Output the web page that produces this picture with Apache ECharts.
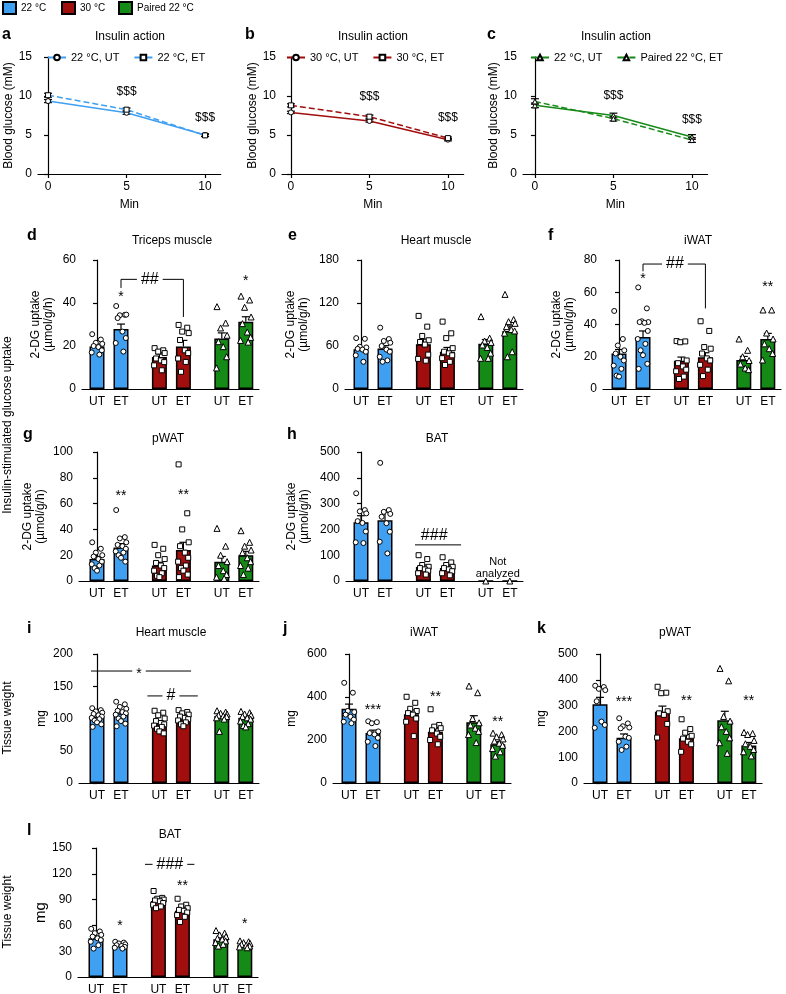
<!DOCTYPE html>
<html>
<head>
<meta charset="utf-8">
<script src="https://cdn.jsdelivr.net/npm/echarts@6/dist/echarts.min.js"></script>
<style>
html, body { margin: 0; padding: 0; background: #fff; }
#main { width: 786px; height: 994px; }
</style>
</head>
<body>
<div id="main"></div>
<script>
var FONT = "'Liberation Sans', Arial, sans-serif";
var BLUE = '#3f9ff0', RED = '#a10e0e', GREEN = '#168a16';

var groupNames = ['22 °C', '30 °C', 'Paired 22 °C'];
var groupColors = [BLUE, RED, GREEN];
var groupSymbols = ['circle', 'rect', 'triangle'];
var barLabels = ['UT', 'ET', 'UT', 'ET', 'UT', 'ET'];
var xPos = [0, 1, 2.6, 3.6, 5.2, 6.2];
var jitter = [-0.2, 0.16, -0.05, 0.22, -0.14, 0.06, 0.2, -0.22, 0.1, -0.1, 0, 0.18, -0.18];

// a-c: insulin action, blood glucose (mM)
var minutes = [0, 5, 10];
var a_ut = [9.35, 7.85, 5.0], a_ut_sem = [0.2, 0.2, 0.15];
var a_et = [10.1, 8.25, 4.95], a_et_sem = [0.25, 0.2, 0.15];
var b_ut = [7.9, 6.8, 4.4], b_ut_sem = [0.15, 0.15, 0.15];
var b_et = [8.8, 7.35, 4.6], b_et_sem = [0.2, 0.2, 0.15];
var c_ut = [8.8, 7.5, 4.75], c_ut_sem = [0.3, 0.3, 0.3];
var c_et = [9.3, 7.1, 4.35], c_et_sem = [0.35, 0.3, 0.3];
var a_marks = [[5, 10.6, '$$$', 'dollar'], [10, 7.2, '$$$', 'dollar']];
var b_marks = [[5, 9.9, '$$$', 'dollar'], [10, 7.2, '$$$', 'dollar']];
var c_marks = [[5, 10.1, '$$$', 'dollar'], [10, 7.0, '$$$', 'dollar']];

// d: triceps muscle 2-DG uptake
var d_mean = [19.8, 27.9, 14.9, 19.8, 23.5, 31.3];
var d_sem = [1.1, 2.3, 1.4, 2.8, 2.6, 2.3];
var d_pts = [
  [25.5, 23, 21.5, 21, 20, 19.5, 18, 17, 16],
  [38.6, 34.5, 34.3, 34.6, 33, 26.7, 23.7, 21.4, 17.4],
  [19, 18, 17.4, 16.7, 14.2, 13.3, 12.5, 11, 8.7],
  [29.8, 28.5, 26.7, 26, 22.8, 18, 16.7, 14.2, 12.6, 8],
  [38.3, 30.7, 28.4, 25, 22, 19.7, 15, 9.8],
  [43.2, 41.4, 38, 33.5, 30.4, 26.5, 24, 22.6, 21.8]
];
var d_lines = [[[1, 47], [1, 51], [3.6, 51], [3.6, 33.5]]];
var d_marks = [[1, 44.6, '*', 'star'], [6.2, 52, '*', 'star'], [2.2, 51, '##', 'hash']];

// e: heart muscle 2-DG uptake
var e_mean = [55.4, 56.5, 62.5, 52, 63, 81];
var e_sem = [2.5, 4, 7, 6, 6, 7];
var e_pts = [
  [71, 70, 59, 58, 56, 55, 52, 47, 38],
  [85.6, 69.7, 67, 64.6, 60, 55, 52, 45, 40, 38],
  [102, 87, 74, 68, 65.6, 62, 48, 42, 39.5],
  [94, 77.7, 71, 57, 52, 49.8, 47, 43, 38, 33.5],
  [101, 71, 67, 65, 61.4, 58, 50, 42.8, 42.8],
  [132, 97, 94, 91.6, 87, 83, 81, 78, 52, 45]
];

// f: iWAT 2-DG uptake
var f_mean = [22, 32.2, 17.5, 19.7, 18, 31];
var f_sem = [2.5, 3.8, 2.3, 2.8, 2.2, 3.5];
var f_pts = [
  [48.4, 31, 27, 24, 22, 20, 17.7, 14.5, 12.5, 8.3, 7.7],
  [63, 50, 42, 41.5, 41.5, 41, 36, 31, 28, 24, 21, 15.6, 12.5],
  [29.7, 29.5, 29, 17.7, 16, 14, 12, 11, 7.7, 6.2],
  [42, 36, 26, 25, 22, 19, 17.7, 15, 12, 8],
  [31, 24, 20, 17.7, 15.5, 13, 12],
  [49, 49, 34.7, 31, 28, 25, 22, 18]
];
var f_lines = [[[1, 73], [1, 77.5], [3.6, 77.5], [3.6, 50]]];
var f_marks = [[1, 70.5, '*', 'star'], [6.2, 65.5, '**', 'star'], [2.33, 77.5, '##', 'hash']];

// g: pWAT 2-DG uptake
var g_mean = [17, 26, 12, 24, 15, 20];
var g_sem = [2, 3, 2.5, 6, 4, 3];
var g_pts = [
  [30, 25, 22, 20, 19, 17, 15, 13, 12, 10, 8],
  [55, 34, 33, 30, 28, 27, 25, 23, 22, 20, 18, 15],
  [28, 25, 20, 17, 14, 12, 10, 8, 6, 4, 3],
  [90.4, 52.5, 40, 30, 27, 22, 18, 15, 12, 10, 8, 5, 3],
  [40.8, 27, 20, 15, 12, 8, 5, 3, 2],
  [39, 30, 27, 24, 22, 18, 15, 12, 10, 5]
];
var g_marks = [[1, 69, '**', 'star'], [3.6, 70, '**', 'star']];

// h: BAT 2-DG uptake (paired group not analyzed)
var h_mean = [228, 235, 54, 50, 0, 0];
var h_sem = [25, 32, 8, 8, 0, 0];
var h_pts = [
  [340, 275, 270, 262, 232, 225, 192, 150, 147],
  [458, 275, 268, 260, 249, 224, 191, 152, 107],
  [100, 85, 62, 55, 50, 45, 40, 30, 25],
  [92, 72, 62, 55, 50, 45, 38, 30, 22],
  [0],
  [0]
];
var h_lines = [[[2.25, 140], [4.17, 140]]];
var h_marks = [[3.05, 142, '###', 'hashAbove'], [5.7, 50, 'Not\nanalyzed', 'note']];

// i: heart muscle weight (mg)
var i_mean = [103, 108, 92.5, 99, 104, 101];
var i_sem = [2, 2.8, 3, 2.5, 2.8, 2];
var i_pts = [
  [116, 113, 111, 109, 107, 105, 103, 101, 99, 97, 94, 91, 87],
  [126, 122, 118, 115, 112, 110, 108, 106, 103, 100, 96, 92, 88],
  [112, 109, 105, 100, 96, 93, 91, 89, 87, 84, 80, 77],
  [113, 110, 108, 106, 103, 101, 99, 97, 94, 91, 88],
  [112, 110, 108, 107, 105, 104, 103, 101, 99, 80],
  [111, 109, 107, 105, 103, 101, 99, 96, 92, 89, 87]
];
var i_lines = [[[-0.25, 173.6], [3.92, 173.6]], [[2.1, 135], [4.2, 135]]];
var i_marks = [[1.75, 173.6, '*', 'hashStar'], [3.08, 135, '#', 'hash']];

// j: iWAT weight (mg)
var j_mean = [345, 232, 320, 238, 283, 180];
var j_sem = [22, 14, 20, 17, 30, 12];
var j_pts = [
  [466, 420, 335, 330, 318, 308, 295, 285, 278],
  [287, 283, 278, 240, 232, 226, 210, 192, 172],
  [401, 373, 345, 335, 325, 318, 300, 285, 218],
  [343, 270, 262, 255, 245, 230, 215, 200, 180],
  [451, 420, 300, 280, 270, 255, 240, 225, 188],
  [232, 225, 215, 205, 195, 185, 175, 160, 145, 125]
];
var j_marks = [[1, 358, '***', 'star'], [3.6, 419, '**', 'star'], [6.2, 302, '**', 'star']];

// k: pWAT weight (mg)
var k_mean = [305, 175, 276, 173, 243, 145];
var k_sem = [27, 15, 22, 15, 35, 12];
var k_pts = [
  [377, 372, 365, 360, 317, 238, 225, 214],
  [251, 231, 220, 215, 212, 180, 175, 160, 141, 128],
  [373, 350, 348, 278, 270, 264, 229, 176],
  [247, 209, 195, 183, 172, 160, 150, 121],
  [444, 396, 258, 240, 218, 200, 175, 156, 115],
  [196, 192, 188, 165, 152, 142, 130, 121, 105]
];
var k_marks = [[1, 329, '***', 'star'], [3.6, 333, '**', 'star'], [6.2, 333, '**', 'star']];

// l: BAT weight (mg)
var l_mean = [45, 36.5, 88.4, 77, 44, 37];
var l_sem = [2.5, 1, 1.7, 2.3, 1.6, 0.8];
var l_pts = [
  [56, 53, 51, 49, 47, 45, 43, 41, 37, 33],
  [41, 40, 39, 38, 37, 36, 35, 34, 33],
  [100, 92, 91, 90, 89, 88, 86, 84, 82, 80],
  [91, 84, 82, 80, 78, 77, 75, 72, 70, 64],
  [54, 51, 49, 47, 45, 44, 42, 40, 38, 36],
  [42, 41, 40, 39, 38, 37, 36, 35, 34]
];
var l_lines = [[[2.04, 131], [4.1, 131]]];
var l_marks = [[1, 64, '*', 'star'], [3.6, 110, '**', 'star'], [6.2, 66, '*', 'star'], [3.08, 131, '###', 'hash']];

var legendText = {
  a_ut: '22 °C, UT', a_et: '22 °C, ET',
  b_ut: '30 °C, UT', b_et: '30 °C, ET',
  c_ut: '22 °C, UT', c_et: 'Paired 22 °C, ET'
};

// layout
var UNIT = 24, XMAX = 6.75, PANEL_H = 129, MIN_PX = 15.7;
var UPTAKE = '2-DG uptake\n(µmol/g/h)';

var chart = echarts.init(document.getElementById('main'));
var option = {
  animation: false,
  backgroundColor: '#fff',
  textStyle: { fontFamily: FONT, color: '#000' },
  legend: [], grid: [], xAxis: [], yAxis: [], series: [], graphic: []
};

var markStyle = {
  star: { size: 14, dy: 4 },
  hashStar: { size: 14, dy: 3, bg: '#fff' },
  hash: { size: 16, dy: 0, bg: '#fff' },
  hashAbove: { size: 16, dy: 0, va: 'bottom' },
  note: { size: 11, dy: 0 },
  dollar: { size: 12, dy: 0 }
};

function markSeries(gi, marks) {
  return {
    type: 'custom', xAxisIndex: gi, yAxisIndex: gi, z: 6, silent: true, clip: false,
    data: marks.map(function (m) { return [m[0], m[1]]; }),
    renderItem: function (params, api) {
      var m = marks[params.dataIndex], s = markStyle[m[3]];
      var pt = api.coord([m[0], m[1]]);
      return {
        type: 'text', x: pt[0], y: pt[1] + s.dy,
        style: {
          text: m[2], fill: '#000', font: s.size + 'px ' + FONT,
          align: 'center', verticalAlign: s.va || 'middle',
          backgroundColor: s.bg, padding: s.bg ? [0, 4] : 0, lineHeight: s.size + 1
        }
      };
    }
  };
}

function errSeries(gi, xs, means, sems, both) {
  var data = [];
  xs.forEach(function (x, i) { if (sems[i] > 0) data.push([x, means[i], sems[i]]); });
  return {
    type: 'custom', xAxisIndex: gi, yAxisIndex: gi, z: 3, silent: true,
    data: data, encode: { x: 0, y: 1 },
    renderItem: function (params, api) {
      var x = api.value(0), m = api.value(1), s = api.value(2);
      var hi = api.coord([x, m + s]), lo = api.coord([x, both ? m - s : m]);
      var st = { stroke: '#000', lineWidth: 1.2 };
      var kids = [
        { type: 'line', shape: { x1: hi[0], y1: hi[1], x2: lo[0], y2: lo[1] }, style: st },
        { type: 'line', shape: { x1: hi[0] - 4, y1: hi[1], x2: hi[0] + 4, y2: hi[1] }, style: st }
      ];
      if (both) kids.push({ type: 'line', shape: { x1: lo[0] - 4, y1: lo[1], x2: lo[0] + 4, y2: lo[1] }, style: st });
      return { type: 'group', children: kids };
    }
  };
}

function lineSeries(gi, poly) {
  return {
    type: 'line', xAxisIndex: gi, yAxisIndex: gi, data: poly, symbol: 'none', silent: true,
    lineStyle: { color: '#000', width: 1 }, z: 5
  };
}

function yAxisBase(gi, max, step, name, gap, nameSize) {
  return {
    gridIndex: gi, type: 'value', min: 0, max: max, interval: step,
    axisLine: { show: true, lineStyle: { color: '#000', width: 1.2 } },
    axisTick: { show: true, length: 4, lineStyle: { color: '#000', width: 1.2 } },
    splitLine: { show: false },
    axisLabel: { color: '#000', fontSize: 12, margin: 6, fontFamily: FONT },
    name: name, nameLocation: 'middle', nameGap: gap,
    nameTextStyle: { color: '#000', fontSize: nameSize || 12, lineHeight: 13, fontFamily: FONT }
  };
}

function linePanel(p) {
  var gi = option.grid.length;
  option.grid.push({ left: p.left, top: 57, width: (11 - p.xmin) * MIN_PX, height: 117, outerBoundsMode: 'none' });
  option.xAxis.push({
    gridIndex: gi, type: 'value', min: p.xmin, max: 11,
    axisLine: { lineStyle: { color: '#000', width: 1.2 } },
    axisTick: { show: true, customValues: minutes, length: 4, lineStyle: { color: '#000', width: 1.2 } },
    axisLabel: { customValues: minutes, color: '#000', fontSize: 12, margin: 7, fontFamily: FONT },
    splitLine: { show: false },
    name: 'Min', nameLocation: 'middle', nameGap: 25,
    nameTextStyle: { color: '#000', fontSize: 12, fontFamily: FONT }
  });
  option.yAxis.push(yAxisBase(gi, 15, 5, 'Blood glucose (mM)', 23));
  [['ut', p.ut, p.utSem, 'solid', p.symUT], ['et', p.et, p.etSem, 'dashed', p.symET]].forEach(function (s) {
    option.series.push({
      type: 'line', name: p.key + '_' + s[0], xAxisIndex: gi, yAxisIndex: gi,
      data: minutes.map(function (m, i) { return [m, s[1][i]]; }),
      symbol: s[4], symbolSize: 5, showAllSymbol: true,
      lineStyle: { color: p.color, width: 1.5, type: s[3] },
      itemStyle: { color: '#fff', borderColor: '#000', borderWidth: 1 }, z: 4
    });
    option.series.push(errSeries(gi, minutes, s[1], s[2], true));
  });
  option.series.push(markSeries(gi, p.marks));
  option.legend.push({
    left: p.legendLeft, top: 52, padding: 0, itemWidth: 18, itemHeight: 7, itemGap: 14, selectedMode: false,
    data: [p.key + '_ut', p.key + '_et'],
    formatter: function (n) { return legendText[n]; },
    textStyle: { fontSize: 11, color: '#000', fontFamily: FONT }
  });
}

function barPanel(p) {
  var gi = option.grid.length;
  option.grid.push({ left: p.left, top: p.top, width: (XMAX - p.xmin) * UNIT, height: PANEL_H, outerBoundsMode: 'none' });
  option.xAxis.push({
    gridIndex: gi, type: 'value', min: p.xmin, max: XMAX,
    axisLine: { lineStyle: { color: '#000', width: 1.2 } },
    axisTick: { show: false }, splitLine: { show: false },
    axisLabel: {
      customValues: xPos, color: '#000', fontSize: 12, margin: 7, fontFamily: FONT,
      formatter: function (v) {
        var best = 0;
        xPos.forEach(function (x, i) { if (Math.abs(x - v) < Math.abs(xPos[best] - v)) best = i; });
        return barLabels[best];
      }
    }
  });
  option.yAxis.push(yAxisBase(gi, p.ymax, p.step, p.yname, p.nameGap, p.nameSize));
  for (var g = 0; g < 3; g++) {
    option.series.push({
      type: 'bar', name: groupNames[g], xAxisIndex: gi, yAxisIndex: gi,
      barWidth: 15, barGap: '-100%', z: 2,
      data: [[xPos[2 * g], p.mean[2 * g]], [xPos[2 * g + 1], p.mean[2 * g + 1]]],
      itemStyle: { color: groupColors[g], borderColor: '#000', borderWidth: 1.5 }
    });
  }
  for (var g2 = 0; g2 < 3; g2++) {
    var pts = [];
    [2 * g2, 2 * g2 + 1].forEach(function (i) {
      p.pts[i].forEach(function (v, k) {
        var off = p.pts[i].length > 1 ? jitter[k % jitter.length] : 0;
        pts.push([xPos[i] + off, v]);
      });
    });
    option.series.push({
      type: 'scatter', xAxisIndex: gi, yAxisIndex: gi, data: pts, z: 4, silent: true,
      symbol: groupSymbols[g2], symbolSize: g2 === 2 ? 6 : 5,
      itemStyle: { color: '#fff', borderColor: '#000', borderWidth: 1, opacity: 1 }
    });
  }
  option.series.push(errSeries(gi, xPos, p.mean, p.sem, false));
  (p.lines || []).forEach(function (poly) { option.series.push(lineSeries(gi, poly)); });
  if (p.marks) option.series.push(markSeries(gi, p.marks));
}

linePanel({ key: 'a', left: 38, xmin: -0.64, ut: a_ut, utSem: a_ut_sem, et: a_et, etSem: a_et_sem, color: BLUE, symUT: 'circle', symET: 'rect', marks: a_marks, legendLeft: 47 });
linePanel({ key: 'b', left: 282, xmin: -0.57, ut: b_ut, utSem: b_ut_sem, et: b_et, etSem: b_et_sem, color: RED, symUT: 'circle', symET: 'rect', marks: b_marks, legendLeft: 286 });
linePanel({ key: 'c', left: 523, xmin: -0.76, ut: c_ut, utSem: c_ut_sem, et: c_et, etSem: c_et_sem, color: GREEN, symUT: 'triangle', symET: 'triangle', marks: c_marks, legendLeft: 530 });

barPanel({ left: 82, top: 260, xmin: -0.625, ymax: 60, step: 20, mean: d_mean, sem: d_sem, pts: d_pts, lines: d_lines, marks: d_marks, yname: UPTAKE, nameGap: 27 });
barPanel({ left: 345, top: 260, xmin: -0.667, ymax: 180, step: 60, mean: e_mean, sem: e_sem, pts: e_pts, yname: UPTAKE, nameGap: 35 });
barPanel({ left: 603, top: 260, xmin: -0.667, ymax: 80, step: 20, mean: f_mean, sem: f_sem, pts: f_pts, lines: f_lines, marks: f_marks, yname: UPTAKE, nameGap: 27 });
barPanel({ left: 79, top: 452, xmin: -0.75, ymax: 100, step: 20, mean: g_mean, sem: g_sem, pts: g_pts, marks: g_marks, yname: UPTAKE, nameGap: 32 });
barPanel({ left: 346, top: 452, xmin: -0.625, ymax: 500, step: 100, mean: h_mean, sem: h_sem, pts: h_pts, lines: h_lines, marks: h_marks, yname: UPTAKE, nameGap: 35 });
barPanel({ left: 79, top: 654, xmin: -0.75, ymax: 200, step: 50, mean: i_mean, sem: i_sem, pts: i_pts, lines: i_lines, marks: i_marks, yname: 'mg', nameGap: 31 });
barPanel({ left: 333, top: 654, xmin: -0.667, ymax: 600, step: 200, mean: j_mean, sem: j_sem, pts: j_pts, marks: j_marks, yname: 'mg', nameGap: 35 });
barPanel({ left: 584, top: 654, xmin: -0.667, ymax: 500, step: 100, mean: k_mean, sem: k_sem, pts: k_pts, marks: k_marks, yname: 'mg', nameGap: 36 });
barPanel({ left: 78, top: 848, xmin: -0.75, ymax: 150, step: 30, mean: l_mean, sem: l_sem, pts: l_pts, lines: l_lines, marks: l_marks, yname: 'mg', nameGap: 28, nameSize: 15 });

// group legend at the very top
[[2, groupNames[0]], [61, groupNames[1]], [118, groupNames[2]]].forEach(function (it) {
  option.legend.push({
    left: it[0], top: 1, padding: 0, itemWidth: 13, itemHeight: 12, icon: 'rect', selectedMode: false,
    data: [it[1]], itemStyle: { borderColor: '#000', borderWidth: 2 },
    textStyle: { fontSize: 10, color: '#000', fontFamily: FONT }
  });
});

function gText(x, y, text, size, opts) {
  opts = opts || {};
  option.graphic.push({
    type: 'text', x: x, y: y, rotation: opts.rot || 0, silent: true,
    style: {
      text: text, fill: '#000', font: (opts.bold ? 'bold ' : '') + size + 'px ' + FONT,
      align: opts.align || 'center', verticalAlign: 'middle'
    }
  });
}

// panel letters
[['a', 2, 35], ['b', 245, 35], ['c', 487, 35], ['d', 27, 236], ['e', 288, 236], ['f', 548, 236],
 ['g', 23, 435], ['h', 287, 435], ['i', 27, 629], ['j', 283, 629], ['k', 537, 629], ['l', 27, 831]
].forEach(function (t) { gText(t[1], t[2], t[0], 16, { bold: true, align: 'left' }); });

// panel titles
[['Insulin action', 130, 37], ['Insulin action', 373, 37], ['Insulin action', 616, 37],
 ['Triceps muscle', 172, 241], ['Heart muscle', 436, 241], ['iWAT', 698, 241],
 ['pWAT', 168, 439], ['BAT', 437, 439],
 ['Heart muscle', 171, 633], ['iWAT', 424, 633], ['pWAT', 675, 633], ['BAT', 170, 835]
].forEach(function (t) { gText(t[1], t[2], t[0], 12); });

gText(8, 425, 'Insulin-stimulated glucose uptake', 12, { rot: Math.PI / 2 });
gText(8, 718, 'Tissue weight', 12, { rot: Math.PI / 2 });
gText(8, 912, 'Tissue weight', 12, { rot: Math.PI / 2 });

chart.setOption(option);
</script>
</body>
</html>
